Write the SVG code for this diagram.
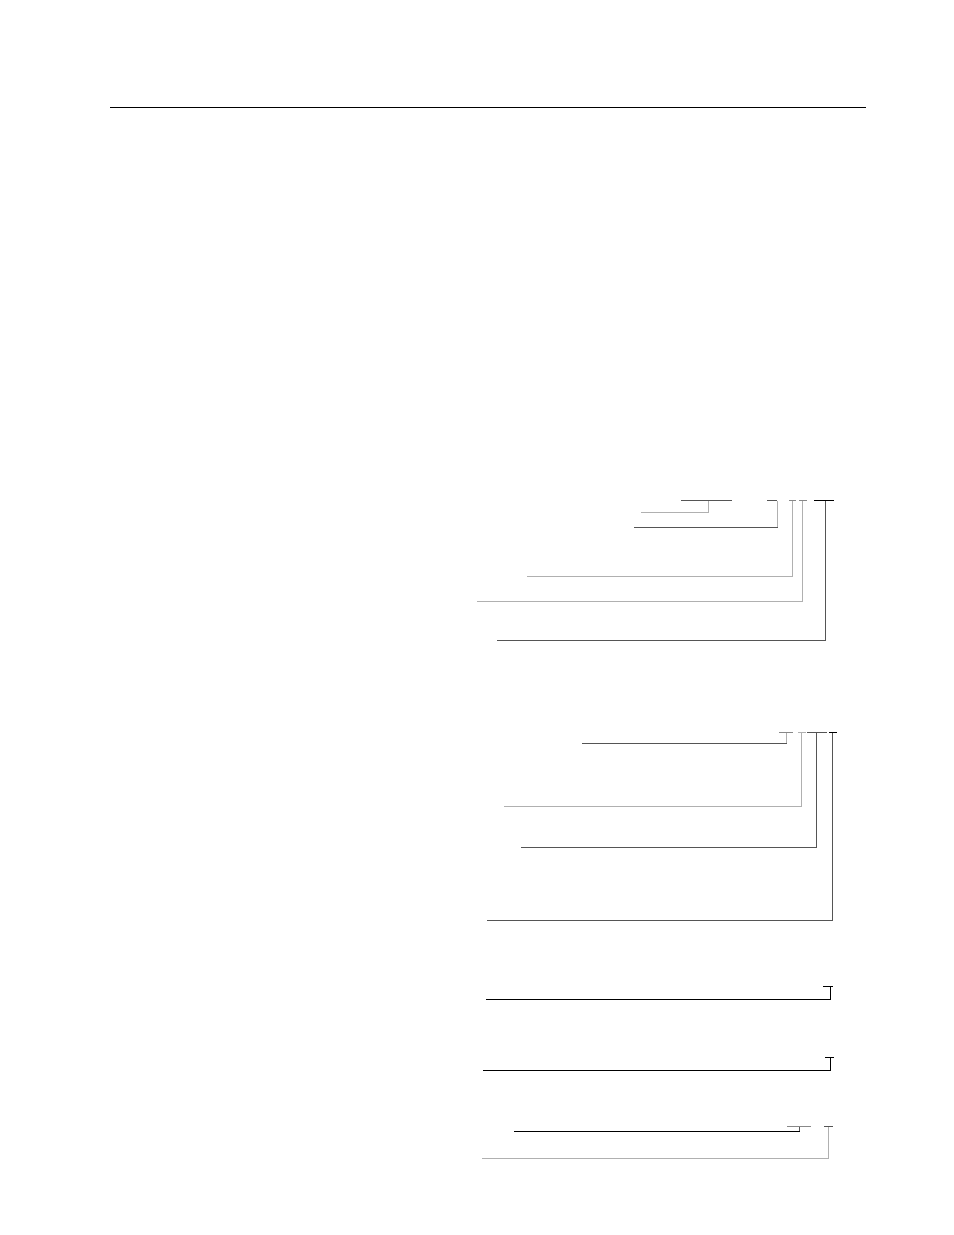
<svg xmlns="http://www.w3.org/2000/svg" width="954" height="1235" viewBox="0 0 954 1235">
<style>
line,polyline{fill:none;stroke-width:1;shape-rendering:crispEdges}
.k{stroke:#000}
.d{stroke:#555}
.m{stroke:#888}
.l{stroke:#b0b0b0}
</style>
<rect x="0" y="0" width="954" height="1235" fill="#fff"/>
<g id="rule"><line x1="110" y1="107" x2="866" y2="107" stroke="#000" stroke-width="2"/></g>
<g id="connectors">
<g id="group1">
<line class="d" x1="681" y1="500.5" x2="732" y2="500.5"/>
<polyline class="l" points="708.5,500.5 708.5,512.5 641,512.5"/>
<line class="d" x1="767" y1="500.5" x2="777" y2="500.5"/>
<line class="l" x1="777.5" y1="500.5" x2="777.5" y2="527"/>
<line class="d" x1="634" y1="527.5" x2="778" y2="527.5"/>
<line class="m" x1="789" y1="500.5" x2="796" y2="500.5"/>
<polyline class="l" points="792.5,500.5 792.5,576.5 527,576.5"/>
<line class="m" x1="799" y1="500.5" x2="807" y2="500.5"/>
<polyline class="l" points="802.5,500.5 802.5,601.5 477,601.5"/>
<line class="k" x1="814" y1="500.5" x2="834" y2="500.5"/>
<polyline class="d" points="825.5,500.5 825.5,640.5 497,640.5"/>
</g>
<g id="group2">
<line class="m" x1="779" y1="732.5" x2="793" y2="732.5"/>
<line class="l" x1="786.5" y1="732.5" x2="786.5" y2="743"/>
<line class="d" x1="582" y1="743.5" x2="787" y2="743.5"/>
<line class="l" x1="798" y1="732.5" x2="806" y2="732.5"/>
<polyline class="l" points="801.5,732.5 801.5,806.5 504,806.5"/>
<line class="d" x1="807" y1="732.5" x2="827" y2="732.5"/>
<polyline class="d" points="816.5,732.5 816.5,847.5 521,847.5"/>
<line class="k" x1="829" y1="732.5" x2="837" y2="732.5"/>
<polyline class="d" points="832.5,732.5 832.5,920.5 487,920.5"/>
</g>
<g id="group3">
<line class="k" x1="823" y1="986.5" x2="833" y2="986.5"/>
<polyline class="k" points="830.5,986.5 830.5,999.5 486,999.5"/>
</g>
<g id="group4">
<line class="k" x1="825" y1="1057.5" x2="834" y2="1057.5"/>
<polyline class="k" points="830.5,1057.5 830.5,1070.5 483,1070.5"/>
</g>
<g id="group5">
<line class="m" x1="787" y1="1126.5" x2="811" y2="1126.5"/>
<line class="d" x1="799.5" y1="1126.5" x2="799.5" y2="1131"/>
<line class="k" x1="514" y1="1131.5" x2="800" y2="1131.5"/>
<line class="d" x1="824" y1="1126.5" x2="833" y2="1126.5"/>
<polyline class="l" points="828.5,1126.5 828.5,1158.5 482,1158.5"/>
</g>
</g>
</svg>
